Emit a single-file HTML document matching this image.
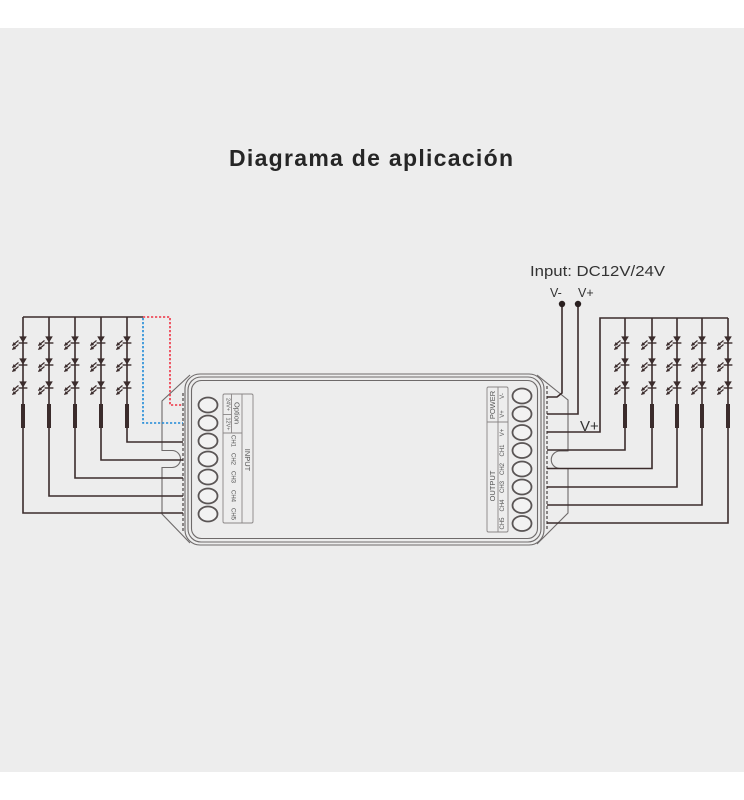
<!DOCTYPE html>
<html><head><meta charset="utf-8"><style>
html,body{margin:0;padding:0;background:#fff;}
svg{display:block;}
</style></head><body>
<svg width="744" height="800" viewBox="0 0 744 800" xmlns="http://www.w3.org/2000/svg">
<defs>
<marker id="ah" viewBox="0 0 6 6" refX="5" refY="3" markerWidth="3.8" markerHeight="3.8" orient="auto" markerUnits="userSpaceOnUse"><path d="M0,0 L6,3 L0,6z" fill="#3b2c2c"/></marker>
<g id="led">
<polygon points="-3.8,-3.6 3.8,-3.6 0,2.6" fill="#3b2c2c"/>
<line x1="-4.4" y1="3" x2="4.4" y2="3" stroke="#3b2c2c" stroke-width="1.4"/>
<line x1="-4.5" y1="0.5" x2="-10.5" y2="5.5" stroke="#3b2c2c" stroke-width="1.2" marker-end="url(#ah)"/>
<line x1="-4.5" y1="4.5" x2="-10.5" y2="9.5" stroke="#3b2c2c" stroke-width="1.2" marker-end="url(#ah)"/>
</g>
<g id="str">
<use href="#led" y="340"/>
<use href="#led" y="362"/>
<use href="#led" y="385"/>
<rect x="-2" y="404" width="4" height="24" fill="#3b2c2c"/>
</g>
</defs>
<rect x="0" y="28" width="744" height="744" fill="#ededed"/>
<text x="229" y="166" textLength="284" lengthAdjust="spacing" font-family="Liberation Sans, sans-serif" font-weight="bold" font-size="23" fill="#262626">Diagrama de aplicación</text>

<!-- device body -->
<g fill="none" stroke="#6e6a6a" stroke-width="1.1">
<rect x="185" y="374" width="359" height="171" rx="15"/>
<rect x="188" y="377" width="353" height="165" rx="13"/>
<rect x="191.5" y="380.5" width="346" height="158" rx="10"/>
<path d="M190,375 L162,401 L162,450.5 L172,450.5 A8.5,8.5 0 0 1 172,467.5 L162,467.5 L162,514 L190,543"/>
<path d="M537,375 L568,400 L568,451 L560,451 A8.7,8.7 0 0 0 560,468.5 L568,468.5 L568,513 L537,544"/>
</g>
<line x1="183" y1="393" x2="183" y2="531" stroke="#8a8686" stroke-width="2" stroke-dasharray="3 2"/>
<line x1="547" y1="386" x2="547" y2="531" stroke="#8a8686" stroke-width="2" stroke-dasharray="3 2"/>

<!-- left terminals -->
<g fill="#f2f2f2" stroke="#5a5555" stroke-width="1.8">
<ellipse cx="208" cy="405" rx="9.5" ry="7.5"/>
<ellipse cx="208" cy="423" rx="9.5" ry="7.5"/>
<ellipse cx="208" cy="441" rx="9.5" ry="7.5"/>
<ellipse cx="208" cy="459" rx="9.5" ry="7.5"/>
<ellipse cx="208" cy="477" rx="9.5" ry="7.5"/>
<ellipse cx="208" cy="496" rx="9.5" ry="7.5"/>
<ellipse cx="208" cy="514" rx="9.5" ry="7.5"/>
</g>
<!-- right terminals -->
<g fill="#f2f2f2" stroke="#5a5555" stroke-width="1.8">
<ellipse cx="522" cy="396" rx="9.5" ry="7.5"/>
<ellipse cx="522" cy="414" rx="9.5" ry="7.5"/>
<ellipse cx="522" cy="432.5" rx="9.5" ry="7.5"/>
<ellipse cx="522" cy="450.5" rx="9.5" ry="7.5"/>
<ellipse cx="522" cy="469" rx="9.5" ry="7.5"/>
<ellipse cx="522" cy="487" rx="9.5" ry="7.5"/>
<ellipse cx="522" cy="505.5" rx="9.5" ry="7.5"/>
<ellipse cx="522" cy="523.5" rx="9.5" ry="7.5"/>
</g>

<!-- left label box -->
<g fill="none" stroke="#8a8686" stroke-width="0.9">
<rect x="223" y="394" width="30" height="129" rx="1.5"/>
<line x1="242" y1="394" x2="242" y2="523"/>
<line x1="231.5" y1="394" x2="231.5" y2="433"/>
<line x1="223" y1="433" x2="242" y2="433"/>
<line x1="223" y1="414.5" x2="231.5" y2="414.5"/>
</g>
<g font-family="Liberation Sans, sans-serif" fill="#555" text-anchor="middle" dominant-baseline="central">
<text font-size="7.5" transform="translate(237,413) rotate(90)">Option</text>
<text font-size="5.5" transform="translate(227.3,404.5) rotate(90)">24V+</text>
<text font-size="5.5" transform="translate(227.3,424) rotate(90)">12V+</text>
<text font-size="6" transform="translate(232.5,441) rotate(90)">CH1</text>
<text font-size="6" transform="translate(232.5,459) rotate(90)">CH2</text>
<text font-size="6" transform="translate(232.5,477) rotate(90)">CH3</text>
<text font-size="6" transform="translate(232.5,496) rotate(90)">CH4</text>
<text font-size="6" transform="translate(232.5,514) rotate(90)">CH5</text>
<text font-size="7.5" transform="translate(247.5,460) rotate(90)">INPUT</text>
</g>

<!-- right label box -->
<g fill="none" stroke="#8a8686" stroke-width="0.9">
<rect x="487" y="387" width="21" height="145" rx="1.5"/>
<line x1="498" y1="387" x2="498" y2="532"/>
<line x1="487" y1="422" x2="508" y2="422"/>
</g>
<g font-family="Liberation Sans, sans-serif" fill="#555" text-anchor="middle" dominant-baseline="central">
<text font-size="7.5" transform="translate(492.5,405) rotate(-90)">POWER</text>
<text font-size="7.5" transform="translate(492.5,486) rotate(-90)">OUTPUT</text>
<text font-size="6" transform="translate(503,396) rotate(-90)">V-</text>
<text font-size="6" transform="translate(503,414) rotate(-90)">V+</text>
<text font-size="6" transform="translate(503,432.5) rotate(-90)">V+</text>
<text font-size="6" transform="translate(503,450.5) rotate(-90)">CH1</text>
<text font-size="6" transform="translate(503,469) rotate(-90)">CH2</text>
<text font-size="6" transform="translate(503,487) rotate(-90)">CH3</text>
<text font-size="6" transform="translate(503,505.5) rotate(-90)">CH4</text>
<text font-size="6" transform="translate(503,523.5) rotate(-90)">CH5</text>
</g>

<!-- left wiring -->
<g fill="none" stroke="#3b2c2c" stroke-width="1.6">
<line x1="23" y1="317" x2="143" y2="317"/>
<polyline points="23,317 23,513 183,513"/>
<polyline points="49,317 49,496 183,496"/>
<polyline points="75,317 75,478 183,478"/>
<polyline points="101,317 101,460 183,460"/>
<polyline points="127,317 127,442 183,442"/>
</g>
<polyline points="143,317 170,317 170,405 183,405" fill="none" stroke="#ee3344" stroke-width="1.6" stroke-dasharray="2.2 1.8"/>
<polyline points="143,318 143,423 183,423" fill="none" stroke="#1f8ad8" stroke-width="1.6" stroke-dasharray="2.2 1.8"/>
<use href="#str" x="23"/>
<use href="#str" x="49"/>
<use href="#str" x="75"/>
<use href="#str" x="101"/>
<use href="#str" x="127"/>

<!-- right wiring -->
<g fill="none" stroke="#3b2c2c" stroke-width="1.6">
<polyline points="562,304 562,393 557,397 547,397"/>
<polyline points="578,304 578,414 547,414"/>
<polyline points="547,432 600,432 600,318 728,318"/>
<polyline points="547,450 625,450 625,318"/>
<polyline points="547,468.5 652,468.5 652,318"/>
<polyline points="547,487 677,487 677,318"/>
<polyline points="547,505 702,505 702,318"/>
<polyline points="547,523 728,523 728,318"/>
</g>
<use href="#str" x="625"/>
<use href="#str" x="652"/>
<use href="#str" x="677"/>
<use href="#str" x="702"/>
<use href="#str" x="728"/>
<circle cx="562" cy="304" r="3.2" fill="#2a2020"/>
<circle cx="578" cy="304" r="3.2" fill="#2a2020"/>
<g font-family="Liberation Sans, sans-serif" fill="#333">
<text x="530" y="276" font-size="15" textLength="135" lengthAdjust="spacingAndGlyphs">Input: DC12V/24V</text>
<text x="550" y="297" font-size="12.5">V-</text>
<text x="578" y="297" font-size="12.5">V+</text>
<text x="580" y="431" font-size="15">V+</text>
</g>
</svg>
</body></html>
